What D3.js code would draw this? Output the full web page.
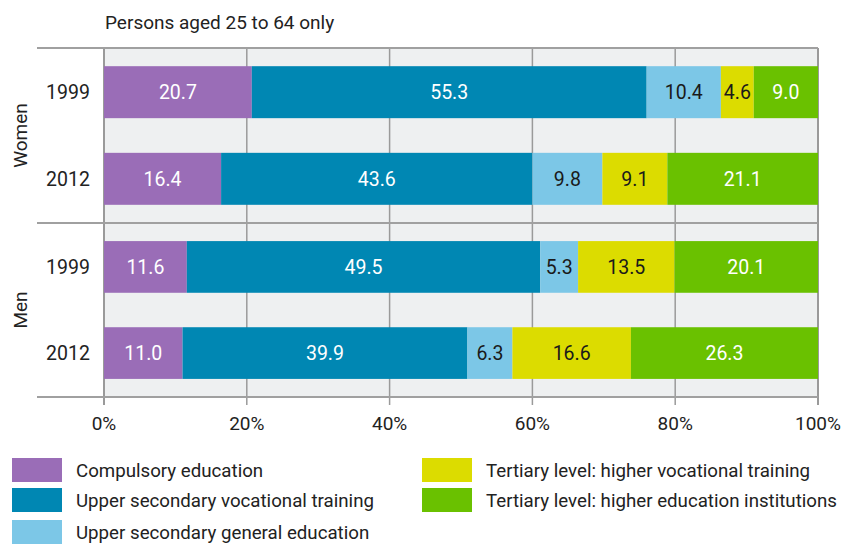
<!DOCTYPE html>
<html><head><meta charset="utf-8">
<script src="https://cdn.jsdelivr.net/npm/d3@7"></script>
<style>
body{margin:0;background:#fff;}
svg{display:block;}
text{font-family:"Roboto","Liberation Sans",sans-serif;}
</style></head>
<body><svg id="c" width="843" height="545"></svg>
<script>
const groups = ["Women", "Men"];
const years = ["1999", "2012"];
const seriesNames = ["Compulsory education","Upper secondary vocational training","Upper secondary general education","Tertiary level: higher vocational training","Tertiary level: higher education institutions"];
const colors = ["#9a6db7","#0087b3","#7cc7e7","#dcdc00","#6ac100"];
const labelColors = ["#ffffff","#ffffff","#1a1a1a","#1a1a1a","#ffffff"];
const women1999 = [20.7, 55.3, 10.4, 4.6, 9.0];
const women2012 = [16.4, 43.6, 9.8, 9.1, 21.1];
const men1999 = [11.6, 49.5, 5.3, 13.5, 20.1];
const men2012 = [11.0, 39.9, 6.3, 16.6, 26.3];
const xTicks = [0, 20, 40, 60, 80, 100];
const title = "Persons aged 25 to 64 only";

const rows = [
  {group:"Women", year:"1999", vals:women1999},
  {group:"Women", year:"2012", vals:women2012},
  {group:"Men", year:"1999", vals:men1999},
  {group:"Men", year:"2012", vals:men2012}
];

const svg = d3.select("#c");
const pL = 104, pR = 818, pT = 48, pB = 397, pM = 223;
const x = d3.scaleLinear().domain([0,100]).range([pL,pR]).clamp(true);
const yW = d3.scaleBand().domain(years).range([pT, pM]).paddingInner(0.40).paddingOuter(0.21);
const yM = d3.scaleBand().domain(years).range([pM, pB]).paddingInner(0.40).paddingOuter(0.21);
const yFor = g => g === "Women" ? yW : yM;

svg.append("rect").attr("x",pL).attr("y",pT).attr("width",pR-pL).attr("height",pB-pT).attr("fill","#eef0f1");

svg.append("g").selectAll("line").data(xTicks).join("line")
  .attr("x1",d=>x(d)).attr("x2",d=>x(d)).attr("y1",pT).attr("y2",pB+8)
  .attr("stroke","#9a9a9a").attr("stroke-width",d=> (d===0||d===100)?2:1.5);

svg.append("g").selectAll("line").data([pT, pM, pB]).join("line")
  .attr("x1",37).attr("x2",pR).attr("y1",d=>d).attr("y2",d=>d)
  .attr("stroke","#a0a0a0").attr("stroke-width",2);

rows.forEach(r => {
  const y = yFor(r.group);
  let cum = 0;
  const segs = r.vals.map((v,i)=>{const s={i,v,x0:cum,x1:cum+v}; cum+=v; return s;});
  const g = svg.append("g");
  g.selectAll("rect").data(segs).join("rect")
    .attr("x",d=>x(d.x0)).attr("width",d=>x(d.x1)-x(d.x0))
    .attr("y",y(r.year)).attr("height",y.bandwidth())
    .attr("fill",d=>colors[d.i]);
  g.selectAll("text").data(segs).join("text")
    .attr("x",d=>(x(d.x0)+x(d.x1))/2).attr("y",y(r.year)+y.bandwidth()/2)
    .attr("dy","0.36em").attr("text-anchor","middle")
    .attr("font-size",19.5).attr("fill",d=>labelColors[d.i])
    .text(d=>d.v.toFixed(1));
  svg.append("text").attr("x",68).attr("y",y(r.year)+y.bandwidth()/2).attr("dy","0.36em")
    .attr("text-anchor","middle").attr("font-size",19.5).attr("fill","#222").text(r.year);
});

groups.forEach(gname=>{
  const y = yFor(gname);
  const cy = (y.range()[0]+y.range()[1])/2;
  svg.append("text").attr("transform",`translate(20,${cy}) rotate(-90)`)
    .attr("text-anchor","middle").attr("dy","0.36em").attr("font-size",19).attr("fill","#222").text(gname);
});

svg.append("g").selectAll("text").data(xTicks).join("text")
  .attr("x",d=>x(d)).attr("y",423).attr("dy","0.36em").attr("text-anchor","middle")
  .attr("font-size",19).attr("fill","#222").text(d=>d+"%");

svg.append("text").attr("x",105).attr("y",22).attr("dy","0.36em").attr("font-size",19).attr("fill","#222").text(title);

const legPos = [[12,470],[12,500],[12,532],[422,470],[422,500]];
seriesNames.forEach((n,i)=>{
  const [lx,ly] = legPos[i];
  svg.append("rect").attr("x",lx).attr("y",ly-12).attr("width",50).attr("height",24).attr("fill",colors[i]);
  svg.append("text").attr("x",lx+64).attr("y",ly).attr("dy","0.36em").attr("font-size",18.7).attr("fill","#222").text(n);
});
</script></body></html>
